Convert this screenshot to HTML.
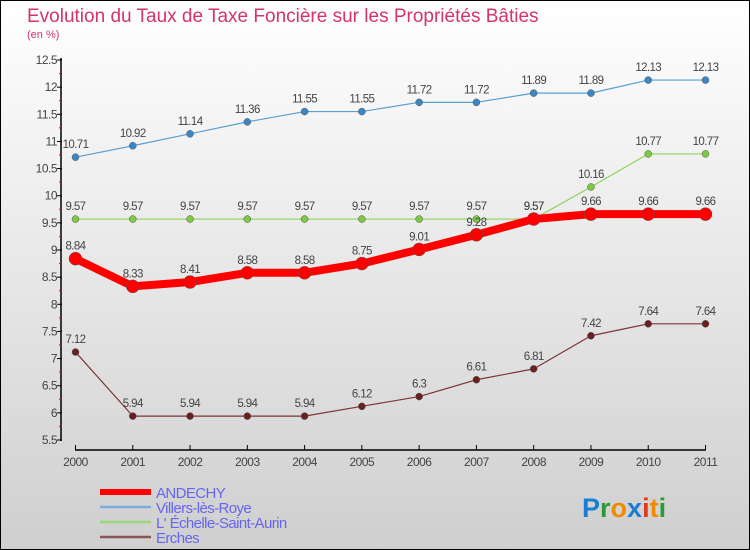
<!DOCTYPE html>
<html><head><meta charset="utf-8"><style>
body{margin:0;}
#c{width:750px;height:550px;position:relative;overflow:hidden;font-family:"Liberation Sans",sans-serif;}
</style></head><body>
<div id="c">
<svg id="s" width="750" height="550" xmlns="http://www.w3.org/2000/svg">
<defs><linearGradient id="bg" x1="0" y1="0" x2="0" y2="1"><stop offset="0" stop-color="#ffffff"/><stop offset="1" stop-color="#cfcfcf"/></linearGradient></defs>
<rect x="0.5" y="0.5" width="749" height="549" fill="url(#bg)" stroke="#000"/>
<text x="27" y="22" font-size="19" fill="#d4336e">Evolution du Taux de Taxe Foncière sur les Propriétés Bâties</text>
<text x="27" y="38" font-size="11" fill="#d4336e">(en %)</text>
<g id="axes"></g><g id="series"></g><g id="legend"></g>
<text x="582" y="517" font-size="27" font-weight="bold"><tspan fill="#1a7fd4">P</tspan><tspan fill="#2a9a3a">r</tspan><tspan fill="#f08a00">o</tspan><tspan fill="#1a7fd4">x</tspan><tspan fill="#e03a1a">i</tspan><tspan fill="#f08a00">t</tspan><tspan fill="#2a9a3a">i</tspan></text>
</svg>
</div>
<script>
const years=["2000","2001","2002","2003","2004","2005","2006","2007","2008","2009","2010","2011"];
const andechy=[8.84,8.33,8.41,8.58,8.58,8.75,9.01,9.28,9.57,9.66,9.66,9.66];
const villers=[10.71,10.92,11.14,11.36,11.55,11.55,11.72,11.72,11.89,11.89,12.13,12.13];
const echelle=[9.57,9.57,9.57,9.57,9.57,9.57,9.57,9.57,9.57,10.16,10.77,10.77];
const erches=[7.12,5.94,5.94,5.94,5.94,6.12,6.3,6.61,6.81,7.42,7.64,7.64];
const yTicks=[5.5,6,6.5,7,7.5,8,8.5,9,9.5,10,10.5,11,11.5,12,12.5];
const NS="http://www.w3.org/2000/svg";
const x=i=>75.5+i*(630/11);
const y=v=>440-(v-5.5)*(380/7);
function mk(t,a,p){const e=document.createElementNS(NS,t);for(const k in a)e.setAttribute(k,a[k]);p.appendChild(e);return e;}
const ax=document.getElementById('axes');
let e=mk('line',{x1:61,y1:58,x2:61,y2:441,stroke:'#000','stroke-width':1.5},ax);


e=mk('line',{x1:75,y1:450,x2:706,y2:450,stroke:'#000','stroke-width':1.5},ax);


yTicks.forEach((v,i)=>{
 mk('line',{x1:57,y1:y(v),x2:62,y2:y(v),stroke:'#000'},ax);
 if(i<yTicks.length-1) mk('line',{x1:59,y1:y(v+0.25),x2:62,y2:y(v+0.25),stroke:'#e00'},ax);
 const t=mk('text',{x:57,y:y(v)+4,'font-size':12,'text-anchor':'end',fill:'#444','letter-spacing':'-0.5'},ax);
 t.textContent=String(v);
 
 
});
years.forEach((yr,i)=>{
 mk('line',{x1:x(i),y1:445,x2:x(i),y2:450,stroke:'#000'},ax);
 const t=mk('text',{x:x(i),y:466,'font-size':12,'text-anchor':'middle',fill:'#444','letter-spacing':'-0.5'},ax);
 t.textContent=yr;
 
 
});
const sg=document.getElementById('series');
function series(vals,color,w,r,name,fill){
 const g=mk('g',{},sg);
 
 
 const p=mk('polyline',{points:vals.map((v,i)=>x(i)+','+y(v)).join(' '),fill:'none',stroke:color,'stroke-width':w,'stroke-linejoin':'round'},g);
 
 
 vals.forEach((v,i)=>{
  const c=mk('circle',{cx:x(i),cy:y(v),r:r,fill:fill,stroke:'#555','stroke-width':0.5},g);
  
  
  const t=mk('text',{x:x(i),y:y(v)-9,'font-size':11.5,'text-anchor':'middle',fill:'#444','letter-spacing':'-0.6'},g);
  t.textContent=String(v);
  
  
 });
}
series(villers,'#5a9fd4',1.2,3.5,'villers-les-roye','#3a87c8');
series(echelle,'#8ed35f',1.2,3.5,'echelle-saint-aurin','#7acb3f');
series(erches,'#7a3636',1.2,3.5,'erches','#6a1f1f');
series(andechy,'#ff0000',8,6.5,'andechy','#ff0000');
const lg=document.getElementById('legend');
[['ANDECHY','#ff0000',6],['Villers-lès-Roye','#7aaee0',2.5],['L\' Échelle-Saint-Aurin','#9ed47a',2.5],['Erches','#8a5555',2.5]].forEach((d,i)=>{
 const yy=492+i*15;
 const l=mk('line',{x1:100,y1:yy,x2:151,y2:yy,stroke:d[1],'stroke-width':d[2]},lg);
 
 
 const t=mk('text',{x:156,y:yy+6,'font-size':15,fill:'#6666ee','letter-spacing':'-0.6'},lg);
 t.textContent=d[0];
 
 
});
</script>
</body></html>
